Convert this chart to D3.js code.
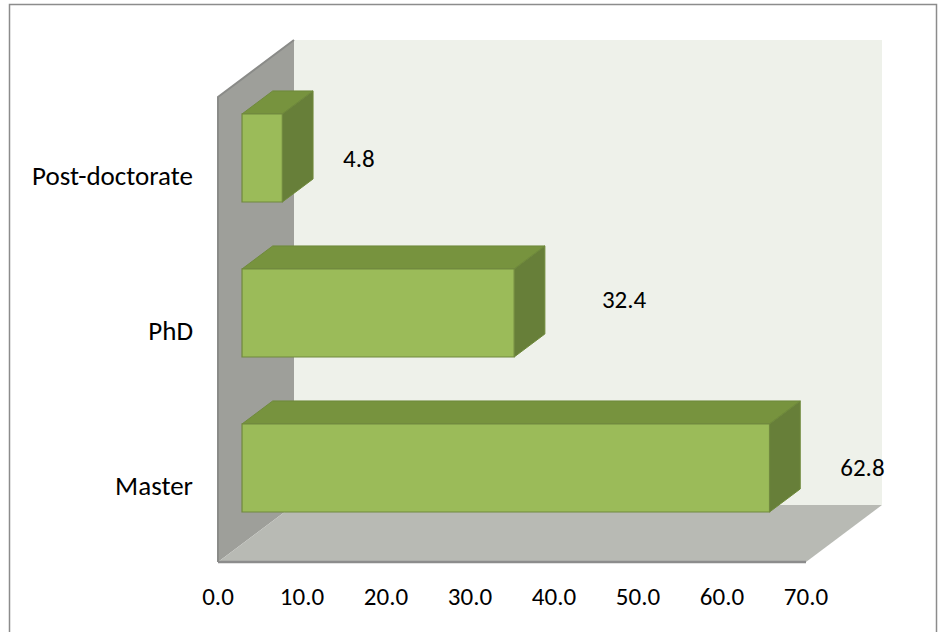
<!DOCTYPE html>
<html>
<head>
<meta charset="utf-8">
<script src="https://cdn.jsdelivr.net/npm/d3@7"></script>
<style>
  html, body { margin: 0; padding: 0; background: #ffffff; }
  svg { display: block; }
  text { font-family: Carlito, Lato, "Open Sans", sans-serif; fill: #000; }
</style>
</head>
<body>
<script>
// Share of respondents by highest degree (%)
const categories = ["Master", "PhD", "Post-doctorate"];
const values = [62.8, 32.4, 4.8];
const tickValues = [0, 10, 20, 30, 40, 50, 60, 70];

const W = 938, H = 632;
const svg = d3.select("body").append("svg").attr("width", W).attr("height", H);

// Front plane of the 3D box
const plotTop = 97, plotBottom = 562;
const x = d3.scaleLinear().domain([0, 70]).range([218, 806]);
const y = d3.scaleBand().domain(categories.slice().reverse())
  .range([plotTop + 1.5, plotBottom + 1.5]).paddingInner(0.432).paddingOuter(0.216);

// Depth vector of the full box
const DX = 76, DY = -57;
const P = (v, yy, d) => [x(v) + d * DX, yy + d * DY];
const poly = pts => "M" + pts.map(p => p.join(",")).join("L") + "Z";

// Bars sit between these depth fractions
const f0 = 0.316, f1 = 0.72;

// chart frame
svg.append("rect").attr("x", 9.5).attr("y", 4.5).attr("width", 927).attr("height", 640)
  .attr("fill", "none").attr("stroke", "#8c8c8c").attr("stroke-width", 1.5);

// back wall
svg.append("path")
  .attr("d", poly([P(0, plotTop, 1), P(70, plotTop, 1), P(70, plotBottom, 1), P(0, plotBottom, 1)]))
  .attr("fill", "#eef1ea");

// left wall
svg.append("path")
  .attr("d", poly([P(0, plotTop, 0), P(0, plotTop, 1), P(0, plotBottom, 1), P(0, plotBottom, 0)]))
  .attr("fill", "#9e9f9a");
svg.append("path")
  .attr("d", "M" + P(0, plotBottom, 0).join(",") + "L" + P(0, plotTop, 0).join(",") + "L" + P(0, plotTop, 1).join(","))
  .attr("fill", "none").attr("stroke", "#8a8b88").attr("stroke-width", 2);

// floor
svg.append("path")
  .attr("d", poly([P(0, plotBottom, 0), P(70, plotBottom, 0), P(70, plotBottom, 1), P(0, plotBottom, 1)]))
  .attr("fill", "#b8bab4");
svg.append("path")
  .attr("d", "M" + P(0, plotBottom, 0).join(",") + "L" + P(70, plotBottom, 0).join(","))
  .attr("stroke", "#8c8c8c").attr("stroke-width", 2.5);

// bars
const bars = svg.append("g");
categories.forEach((c, i) => {
  const v = values[i];
  const y0 = y(c), y1 = y(c) + y.bandwidth();
  const g = bars.append("g");
  // top face
  g.append("path")
    .attr("d", poly([P(0, y0, f0), P(v, y0, f0), P(v, y0, f1), P(0, y0, f1)]))
    .attr("fill", "#77933e").attr("stroke", "#6f8a3b").attr("stroke-width", 1);
  // side face
  g.append("path")
    .attr("d", poly([P(v, y0, f0), P(v, y0, f1), P(v, y1, f1), P(v, y1, f0)]))
    .attr("fill", "#677f39").attr("stroke", "#6f8a3b").attr("stroke-width", 1);
  // front face
  g.append("path")
    .attr("d", poly([P(0, y0, f0), P(v, y0, f0), P(v, y1, f0), P(0, y1, f0)]))
    .attr("fill", "#9bbb59").attr("stroke", "#71893f").attr("stroke-width", 1.2);
});

// value labels beside each bar
const labelShift = [[40, 0], [57, -13], [30, 1]];
categories.forEach((c, i) => {
  const v = values[i];
  const mid = P(v, y(c) + y.bandwidth() / 2, f0);
  const bx = x(v) + f1 * DX;
  svg.append("text")
    .attr("x", bx + labelShift[i][0])
    .attr("y", mid[1] + labelShift[i][1] + 8.5)
    .attr("font-size", 25)
    .text(d3.format(".1f")(v));
});

// category labels
svg.append("g").selectAll("text").data(categories).join("text")
  .attr("x", 193)
  .attr("y", d => y(d) + y.bandwidth() / 2 + 8.5)
  .attr("text-anchor", "end")
  .attr("font-size", 27)
  .text(d => d);

// value axis labels
svg.append("g").selectAll("text").data(tickValues).join("text")
  .attr("x", d => x(d))
  .attr("y", 605)
  .attr("text-anchor", "middle")
  .attr("font-size", 25)
  .text(d => d3.format(".1f")(d));
</script>
</body>
</html>
